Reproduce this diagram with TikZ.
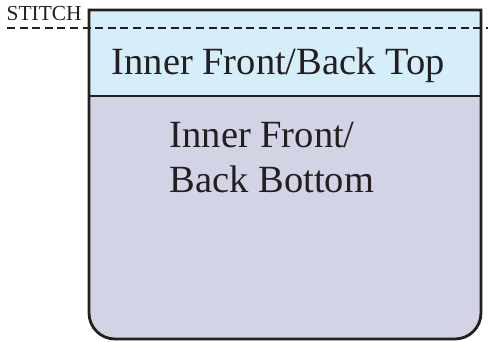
\documentclass[tikz,border=0pt]{standalone}
\usepackage{fontspec}
\setmainfont{Liberation Serif}
\definecolor{topfill}{RGB}{214,237,250}
\definecolor{botfill}{RGB}{211,211,230}
\definecolor{ink}{RGB}{35,31,32}
\tikzset{
  outline/.style={draw=ink,line width=2.8pt},
  stitchline/.style={draw=ink,line width=2.6pt,dash pattern=on 8pt off 4.6pt},
  bigtext/.style={anchor=base west,inner sep=0pt,text=ink,font=\fontsize{38.5}{45}\selectfont},
  smalltext/.style={anchor=base west,inner sep=0pt,text=ink,font=\fontsize{21.4}{24}\selectfont}
}
\begin{document}
\begin{tikzpicture}[x=1pt,y=-1pt]
\useasboundingbox (0,0) rectangle (488,342);
% bottom body with rounded lower corners
\path[fill=botfill] (89,10) [rounded corners=26pt] -- (89,339) -- (481,339) [sharp corners] -- (481,10) -- cycle;
% top band
\path[fill=topfill] (89,10) rectangle (481,96);
\draw[outline] (89,96) -- (481,96);
\draw[outline] (89,10) [rounded corners=26pt] -- (89,339) -- (481,339) [sharp corners] -- (481,10) -- cycle;
% stitch line
\coordinate (sl) at (7,28);
\coordinate (sr) at (488,28);
\draw[stitchline] (sl) -- (sr);
\node[smalltext] (stitch) at (6.5,21) {STITCH};
\node[bigtext] (toplabel) at (111.5,75) {Inner Front/Back Top};
\node[bigtext] (botA) at (169.5,148) {Inner Front/};
\node[bigtext] (botB) at (169.5,193) {Back Bottom};
\end{tikzpicture}
\end{document}
